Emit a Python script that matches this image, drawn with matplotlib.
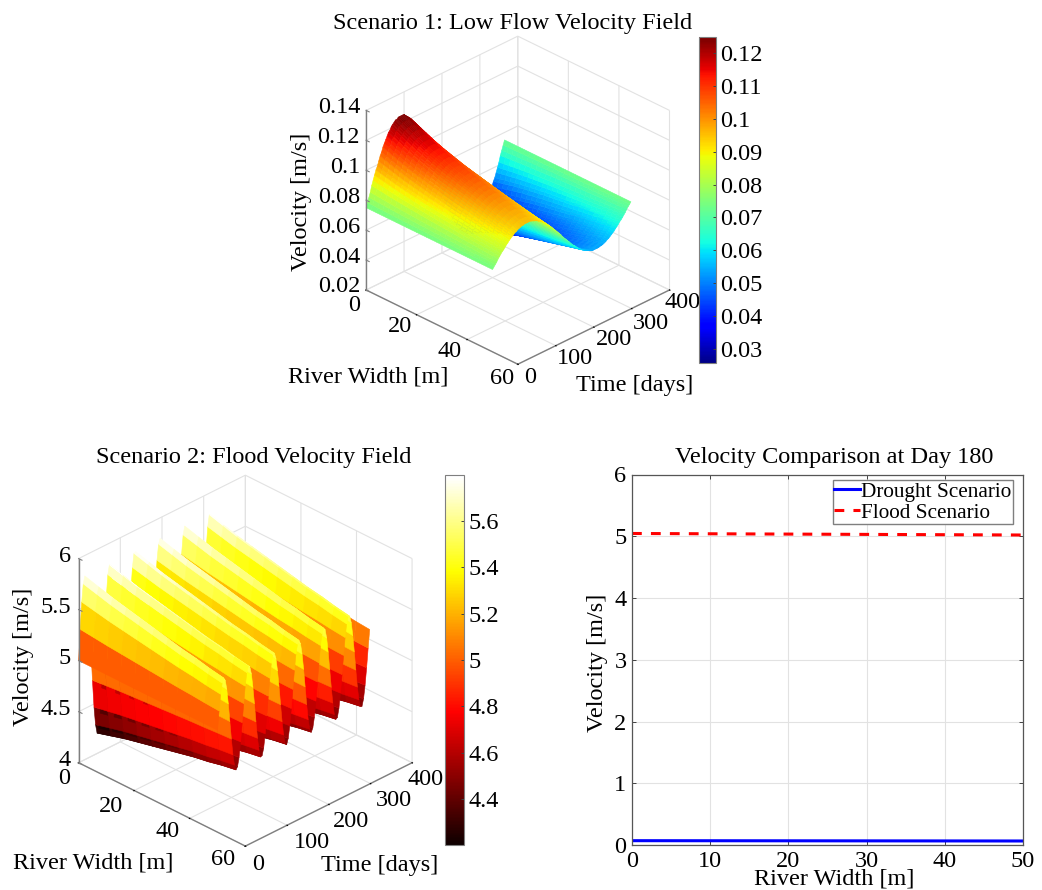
import numpy as np
import matplotlib
matplotlib.use('Agg')
import matplotlib.pyplot as plt
from matplotlib.cm import ScalarMappable
from matplotlib.colors import Normalize
from mpl_toolkits.mplot3d import proj3d

plt.rcParams['font.family'] = ['Liberation Serif', 'DejaVu Serif']

W, H = 1042, 890
FS = 17.5
GRID = '#e2e2e2'
AXIS = '#7f7f7f'

low_width = list(range(0, 51, 2))
flood_width = list(range(0, 51, 5))
days = np.linspace(0, 365, 100)

# velocity along the x=0 bank, read at each time sample
low_at_bank = [
    .075, .078, .081, .084, .088, .091, .094, .097, .099, .102,
    .105, .107, .110, .112, .114, .116, .118, .119, .121, .122,
    .123, .124, .124, .125, .125, .125, .125, .125, .124, .123,
    .122, .121, .120, .118, .117, .115, .113, .111, .108, .106,
    .103, .101, .098, .095, .092, .089, .086, .083, .080, .077,
    .073, .070, .067, .064, .061, .058, .055, .052, .049, .047,
    .044, .042, .039, .037, .035, .033, .032, .030, .029, .028,
    .027, .026, .025, .025, .025, .025, .025, .026, .026, .027,
    .028, .029, .031, .032, .034, .036, .038, .040, .043, .045,
    .048, .051, .053, .056, .059, .062, .066, .069, .072, .075]
low_mean = .075
low_width_scale = [1, .965, .93, .895, .86, .83, .80, .775, .75, .725, .70, .68, .66,
                   .64, .62, .60, .58, .56, .54, .52, .50, .48, .46, .44, .42, .40]

flood_at_bank = [
    5.00, 5.30, 5.56, 5.73, 5.80, 5.75, 5.59, 5.34, 5.04, 4.74,
    4.47, 4.29, 4.20, 4.24, 4.38, 4.62, 4.92, 5.22, 5.49, 5.70,
    5.79, 5.77, 5.64, 5.41, 5.13, 4.82, 4.54, 4.33, 4.21, 4.22,
    4.33, 4.55, 4.83, 5.14, 5.42, 5.65, 5.78, 5.79, 5.69, 5.48,
    5.21, 4.90, 4.61, 4.38, 4.23, 4.20, 4.29, 4.48, 4.75, 5.05,
    5.35, 5.60, 5.75, 5.80, 5.73, 5.55, 5.29, 4.99, 4.69, 4.43,
    4.26, 4.20, 4.26, 4.42, 4.67, 4.97, 5.27, 5.54, 5.72, 5.80,
    5.76, 5.61, 5.37, 5.07, 4.77, 4.50, 4.30, 4.21, 4.23, 4.37,
    4.60, 4.89, 5.19, 5.47, 5.68, 5.79, 5.78, 5.66, 5.44, 5.16,
    4.85, 4.56, 4.34, 4.22, 4.21, 4.32, 4.53, 4.80, 5.11, 5.40]
flood_mean = 5.0
flood_width_scale = [1, .95, .90, .86, .82, .78, .74, .70, .67, .63, .60]

# day 180 cut
cut_width = [0, 50]
drought_cut = [.07, .065]
flood_cut = [5.045, 5.02]

low_ticks = [.03, .04, .05, .06, .07, .08, .09, .1, .11, .12]
low_tick_labels = ['0.03', '0.04', '0.05', '0.06', '0.07', '0.08', '0.09', '0.1', '0.11', '0.12']
flood_ticks = [4.4, 4.6, 4.8, 5, 5.2, 5.4, 5.6]
flood_tick_labels = ['4.4', '4.6', '4.8', '5', '5.2', '5.4', '5.6']


def px_axes(fig, left, top, right, bottom, **kw):
    return fig.add_axes([left / W, 1 - bottom / H, (right - left) / W, (bottom - top) / H], **kw)


def px_text(fig, x, y, s, **kw):
    kw.setdefault('ha', 'center')
    kw.setdefault('va', 'center')
    kw.setdefault('fontsize', FS)
    fig.text(x / W, 1 - y / H, s, **kw)


def surface_panel(fig, cx, cy, span, elev, zbox, widths, V, cmap, norm, zticks, zlabels, xoff, yoff, zoff):
    size = span / 0.84
    ax = px_axes(fig, cx - size / 2, cy - size / 2, cx + size / 2, cy + size / 2,
                 projection='3d', proj_type='ortho')
    ax.patch.set_alpha(0)
    ax.set_box_aspect((1, 1, zbox))
    ax.view_init(elev, -45)
    X, Y = np.meshgrid(widths, days)
    ax.plot_surface(X, Y, V, facecolors=cmap(norm(V)), rstride=1, cstride=1,
                    shade=False, linewidth=0.4)
    ax.set_xlim(0, 60)
    ax.set_ylim(0, 400)
    ax.set_zlim(zticks[0], zticks[-1])
    xticks = [0, 20, 40, 60]
    yticks = [0, 100, 200, 300, 400]
    ax.set_xticks(xticks, [''] * 4)
    ax.set_yticks(yticks, [''] * 5)
    ax.set_zticks(zticks, [''] * len(zticks))
    for axis in (ax.xaxis, ax.yaxis, ax.zaxis):
        axis.set_pane_color((1, 1, 1, 0))
        axis.pane.set_edgecolor(GRID)
        axis.line.set_color(AXIS)
        axis.line.set_linewidth(1.0)
        info = axis._axinfo
        info['grid'].update(color=GRID, linewidth=0.8)
        info['tick'].update(inward_factor=0.03, outward_factor=0.0)
        info['tick']['color'] = AXIS
    ax.zaxis.line.set_visible(False)
    ax.zaxis._axinfo['tick'].update(inward_factor=0.0)
    # z axis sits on the left corner
    ax.plot([0, 0], [0, 0], [zticks[0], zticks[-1]], color=AXIS, lw=1.0, zorder=10)
    for v in zticks:
        ax.plot([0, 1.2], [0, 0], [v, v], color=AXIS, lw=0.8, zorder=10)
    M = ax.get_proj()

    def put(x, y, z, s, off, ha):
        xs, ys, _ = proj3d.proj_transform(x, y, z, M)
        ax.annotate(s, (xs, ys), xycoords='data', xytext=off, textcoords='offset pixels',
                    ha=ha, va='center', fontsize=FS, annotation_clip=False)

    for v, off in zip(xticks, xoff):
        put(v, 0, zticks[0], str(v), off, 'center')
    for v, off in zip(yticks, yoff):
        put(60, v, zticks[0], str(v), off, 'center')
    for v, s in zip(zticks, zlabels):
        put(0, 0, v, s, zoff, 'right')
    return ax


def side_colorbar(fig, left, top, right, bottom, cmap, norm, ticks, labels):
    cax = px_axes(fig, left, top, right, bottom)
    cb = fig.colorbar(ScalarMappable(norm=norm, cmap=cmap), cax=cax)
    cb.set_ticks(ticks, labels=labels)
    cb.ax.tick_params(direction='in', length=2.5, width=0.7, color='#404040', labelsize=FS, pad=3)
    cb.outline.set_edgecolor(AXIS)
    cb.outline.set_linewidth(0.8)
    cb.solids.set_edgecolor('face')


fig = plt.figure(figsize=(W / 100, H / 100), dpi=100)

# scenario 1
low_v = np.array(low_at_bank)
low_grid = low_mean + np.outer(low_v - low_mean, low_width_scale)
low_norm = Normalize(.0257, .1249)
jet = plt.get_cmap('jet', 256)
surface_panel(fig, 513, 205, 299, 29.3, .96, low_width, low_grid, jet, low_norm,
              [.02, .04, .06, .08, .1, .12, .14],
              ['0.02', '0.04', '0.06', '0.08', '0.1', '0.12', '0.14'],
              [(-12, -16), (-17, -12), (-18, -12), (-16, -14)],
              [(12, -13), (19, -13), (20, -12), (19, -15), (13, -13)],
              (-6, 3))
px_text(fig, 513, 24, 'Scenario 1: Low Flow Velocity Field')
px_text(fig, 368, 377, 'River Width [m]')
px_text(fig, 635, 385, 'Time [days]')
px_text(fig, 302, 202, 'Velocity [m/s]', rotation=90)
side_colorbar(fig, 699, 37, 716, 363, jet, low_norm, low_ticks, low_tick_labels)

# scenario 2
flood_v = np.array(flood_at_bank)
flood_grid = flood_mean + np.outer(flood_v - flood_mean, flood_width_scale)
flood_norm = Normalize(4.2, 5.8)
hot = plt.get_cmap('hot', 256)
surface_panel(fig, 240, 666, 333, 30, 1, flood_width, flood_grid, hot, flood_norm,
              [4, 4.5, 5, 5.5, 6], ['4', '4.5', '5', '5.5', '6'],
              [(-15, -16), (-23, -16), (-22, -13), (-22, -13)],
              [(13, -18), (25, -17), (22, -17), (23, -17), (13, -17)],
              (-8, 2))
px_text(fig, 254, 458, 'Scenario 2: Flood Velocity Field')
px_text(fig, 93, 863, 'River Width [m]')
px_text(fig, 380, 865, 'Time [days]')
px_text(fig, 24, 657, 'Velocity [m/s]', rotation=90)
side_colorbar(fig, 445, 475, 464, 845, hot, flood_norm, flood_ticks, flood_tick_labels)

# comparison
ax = px_axes(fig, 632, 474.5, 1023, 845)
ax.plot(cut_width, drought_cut, color='#0000ff', lw=2.2, label='Drought Scenario')
ax.plot(cut_width, flood_cut, color='#ff0000', lw=2.2, ls=(0, (3.2, 3.0)), label='Flood Scenario')
ax.set_xlim(0, 50)
ax.set_ylim(0, 6)
ax.set_xticks([0, 10, 20, 30, 40, 50])
ax.set_yticks([0, 1, 2, 3, 4, 5, 6])
ax.grid(color=GRID, linewidth=0.8)
ax.set_axisbelow(True)
ax.tick_params(direction='in', length=3, width=0.7, top=True, right=True, labelsize=FS,
               color='#404040', pad=4)
for s in ax.spines.values():
    s.set_edgecolor('#555555')
    s.set_linewidth(0.9)
ax.legend(loc='upper right', bbox_to_anchor=(1013 / W, 1 - 480 / H), bbox_transform=fig.transFigure,
          fontsize=15.3, frameon=True, fancybox=False, framealpha=1, edgecolor=AXIS,
          borderaxespad=0, borderpad=0.08, handlelength=1.2, handletextpad=0.05, labelspacing=0.05)
px_text(fig, 834, 458, 'Velocity Comparison at Day 180')
px_text(fig, 834, 879, 'River Width [m]')
px_text(fig, 598, 663, 'Velocity [m/s]', rotation=90)

fig.savefig('out.png', dpi=100)
